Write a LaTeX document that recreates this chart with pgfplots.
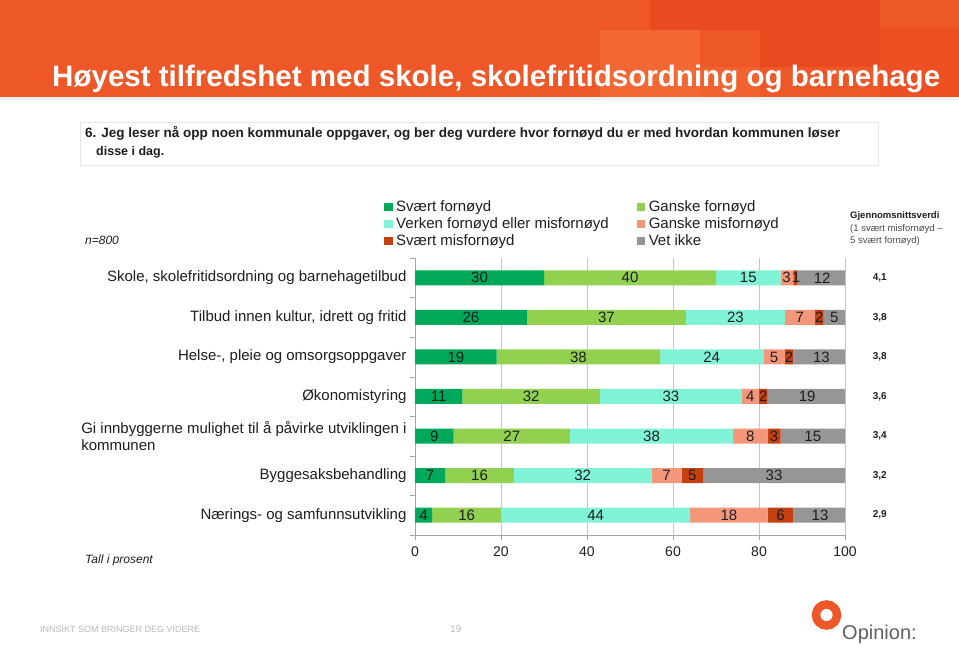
\documentclass[border=0pt]{standalone}
\usepackage{fontspec}
\setmainfont{Liberation Sans}
\usepackage{graphicx}
\usepackage{pgfplots}
\usepackage{pgfplotstable}
\pgfplotsset{compat=1.18}
\definecolor{c1}{RGB}{0,168,89}
\definecolor{c2}{RGB}{146,208,80}
\definecolor{c3}{RGB}{128,242,214}
\definecolor{c4}{RGB}{244,150,122}
\definecolor{c5}{RGB}{196,64,16}
\definecolor{c6}{RGB}{150,150,150}
\definecolor{hdr}{RGB}{238,88,40}
\definecolor{hdrD}{RGB}{234,74,32}
\definecolor{hdrL}{RGB}{242,104,52}
\definecolor{txt}{RGB}{30,30,30}

\pgfplotstableread{
row sf gf vk gm sm vi
6 30 40 15 3 1 12
5 26 37 23 7 2 5
4 19 38 24 5 2 13
3 11 32 33 4 2 19
2 9 27 38 8 3 15
1 7 16 32 7 5 33
0 4 16 44 18 6 13
}\data

\pgfplotstableread{
x y lab
15 6 30
50 6 40
77.5 6 15
86.4 6 3
88.6 6 1
94.7 6 12
13 5 26
44.5 5 37
74.5 5 23
89.5 5 7
94 5 2
97.5 5 5
9.5 4 19
38 4 38
69 4 24
83.5 4 5
87 4 2
94.5 4 13
5.5 3 11
27 3 32
59.5 3 33
78 3 4
81 3 2
91.2 3 19
4.5 2 9
22.5 2 27
55 2 38
78 2 8
83.5 2 3
92.5 2 15
3.5 1 7
15 1 16
39 1 32
58.5 1 7
64.5 1 5
83.5 1 33
2 0 4
12 0 16
42 0 44
73 0 18
85 0 6
94.2 0 13
}\labels

\pgfplotstableread{
x y lab
108.1 6 4,1
108.1 5 3,8
108.1 4 3,8
108.1 3 3,6
108.1 2 3,4
108.1 1 3,2
108.1 0 2,9
}\avg

\begin{document}
\begin{tikzpicture}[x=1pt,y=1pt]
\path[use as bounding box] (0,0) rectangle (959,647);
\fill[white] (0,0) rectangle (959,647);
% header
\fill[hdr] (0,550) rectangle (959,647);
\fill[hdrL] (600,550) rectangle (700,617);
\fill[hdrD] (650,617) rectangle (760,647);
\fill[hdrD] (760,580) rectangle (880,647);
\fill[hdrL!60!hdr] (700,550) rectangle (760,580);
\fill[hdrD!60!hdr] (880,550) rectangle (959,620);
\fill[gray!12] (0,547) rectangle (959,550);
\node[anchor=base west, text=white, inner sep=0] at (52,560) {\resizebox{888pt}{!}{\fontsize{27}{30}\selectfont\bfseries Høyest tilfredshet med skole, skolefritidsordning og barnehage}};
% question box
\draw[gray!20, fill=white] (80,482) rectangle (878,525);
\node[anchor=base west, inner sep=0, text=txt] at (85,509) {\resizebox{755pt}{!}{\fontsize{12.5}{14}\selectfont\bfseries 6. Jeg leser nå opp noen kommunale oppgaver, og ber deg vurdere hvor fornøyd du er med hvordan kommunen løser}};
\node[anchor=base west, inner sep=0, text=txt] at (96,491) {\fontsize{12.5}{14}\selectfont\bfseries disse i dag.};
% side texts
\node[anchor=west, inner sep=0, text=txt] at (85,407) {\fontsize{12}{14}\selectfont\itshape n=800};
\node[anchor=west, inner sep=0, text=txt] at (850,431) {\fontsize{9.5}{11}\selectfont\bfseries Gjennomsnittsverdi};
\node[anchor=west, inner sep=0, text=txt!80] at (850,418) {\fontsize{9.5}{11}\selectfont (1 svært misfornøyd –};
\node[anchor=west, inner sep=0, text=txt!80] at (850,406) {\fontsize{9.5}{11}\selectfont 5 svært fornøyd)};
\node[anchor=west, inner sep=0, text=txt] at (85,87) {\fontsize{12}{14}\selectfont\itshape Tall i prosent};
% footer
\node[anchor=west, inner sep=0, text=gray!55] at (40,18) {\fontsize{9}{10}\selectfont INNSIKT SOM BRINGER DEG VIDERE};
\node[anchor=west, inner sep=0, text=gray!55] at (450,18) {\fontsize{10}{11}\selectfont 19};
\draw[hdr, line width=8.5] (826.5,32) circle (10.5);
\node[anchor=base west, inner sep=0, text=gray!75!black] at (842,7) {\fontsize{20}{22}\selectfont Opinion:};

\begin{axis}[
  at={(415pt,112pt)}, anchor=south west,
  width=430pt, height=277pt, scale only axis,
  xbar stacked, bar width=15pt,
  xmin=0, xmax=100, ymin=-0.5, ymax=6.5,
  axis lines*=left,
  axis line style={gray!70},
  xtick={0,20,...,100},
  xmajorgrids, grid style={gray!45},
  ytick={0,...,6},
  yticklabels={{Nærings- og samfunnsutvikling},{Byggesaksbehandling},{Gi innbyggerne mulighet til å påvirke utviklingen i\\kommunen},{Økonomistyring},{Helse-, pleie og omsorgsoppgaver},{Tilbud innen kultur, idrett og fritid},{Skole, skolefritidsordning og barnehagetilbud}},
  yticklabel style={align=left, font=\fontsize{15}{16.5}\selectfont, text=txt},
  xticklabel style={font=\fontsize{14}{15.5}\selectfont, text=txt, yshift=-3pt},
  /pgf/number format/assume math mode=true,
  minor ytick={-0.5,0.5,...,6.5},
  every major y tick/.style={draw=none},
  every minor y tick/.style={gray!70},
  tick align=outside, major tick length=5pt, minor tick length=5pt,
  tick style={gray!70},
  clip=true,
  legend columns=2,
  legend cell align=left,
  legend style={at={(-0.072,1.215)}, anchor=north west, draw=none, fill=none,
    font=\fontsize{15}{17}\selectfont, text=txt, inner sep=0pt,
    nodes={inner sep=1pt, text height=12pt, text depth=3pt},
    /tikz/every even column/.append style={column sep=27pt}},
  legend image code/.code={\fill[#1] (0pt,-4pt) rectangle (8.5pt,4.5pt); \path (11pt,0pt);},
]
\addplot[fill=c1, draw=none] table[x=sf,y=row] {\data};
\addlegendentry{Svært fornøyd}
\addplot[fill=c2, draw=none] table[x=gf,y=row] {\data};
\addlegendentry{Ganske fornøyd}
\addplot[fill=c3, draw=none] table[x=vk,y=row] {\data};
\addlegendentry{Verken fornøyd eller misfornøyd}
\addplot[fill=c4, draw=none] table[x=gm,y=row] {\data};
\addlegendentry{Ganske misfornøyd}
\addplot[fill=c5, draw=none] table[x=sm,y=row] {\data};
\addlegendentry{Svært misfornøyd}
\addplot[fill=c6, draw=none] table[x=vi,y=row] {\data};
\addlegendentry{Vet ikke}
\end{axis}

\begin{axis}[
  at={(415pt,112pt)}, anchor=south west,
  width=430pt, height=277pt, scale only axis,
  xmin=0, xmax=100, ymin=-0.5, ymax=6.5,
  axis lines=none, clip=false,
]
\addplot[draw=none, mark=none, nodes near coords, point meta=explicit symbolic,
  every node near coord/.append style={anchor=center, font=\fontsize{15}{16}\selectfont, text=txt, inner sep=0pt}]
  table[x=x,y=y,meta=lab] {\labels};
\addplot[draw=none, mark=none, nodes near coords, point meta=explicit symbolic,
  every node near coord/.append style={anchor=center, font=\fontsize{10}{11}\selectfont\bfseries, text=txt, inner sep=0pt}]
  table[x=x,y=y,meta=lab] {\avg};
\end{axis}
\end{tikzpicture}
\end{document}
